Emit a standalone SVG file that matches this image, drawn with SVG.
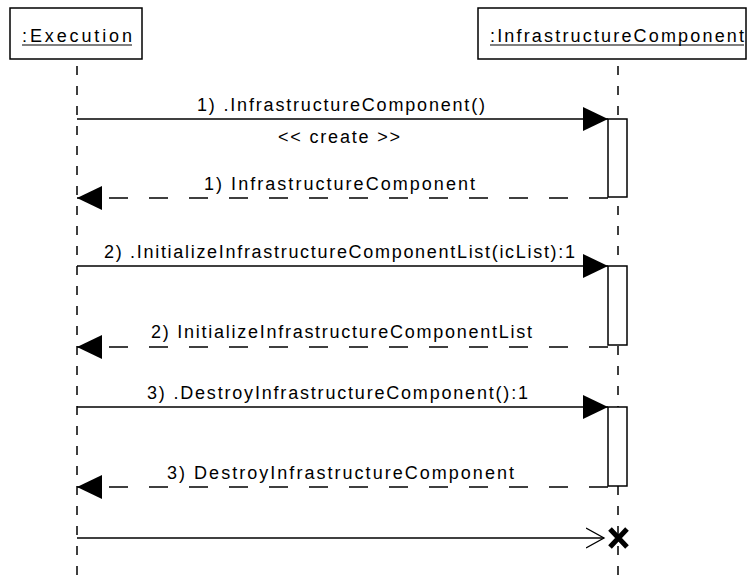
<svg xmlns="http://www.w3.org/2000/svg" width="748" height="575" viewBox="0 0 748 575">
<style>
text{font-family:"Liberation Sans",Arial,sans-serif;font-size:18px;fill:#000}
.box{fill:#fff;stroke:#000;stroke-width:1.5}
.life{stroke:#000;stroke-width:1.5;stroke-dasharray:9 11;fill:none}
.msg{stroke:#000;stroke-width:1.5;fill:none}
.ret{stroke:#000;stroke-width:1.5;fill:none;stroke-dasharray:19 21}
.act{fill:#fff;stroke:#000;stroke-width:1.5}
.ul{stroke:#000;stroke-width:1.2}
</style>
<defs>
<marker id="filled" markerUnits="userSpaceOnUse" markerWidth="26" markerHeight="26" refX="25" refY="12" orient="auto" viewBox="0 0 26 26">
<path d="M0,0 L25,12 L0,24 Z" fill="#000"/>
</marker>
<marker id="open" markerUnits="userSpaceOnUse" markerWidth="20" markerHeight="24" refX="18" refY="11" orient="auto" viewBox="0 0 20 24">
<path d="M0,1 L18,11 L0,21" fill="none" stroke="#000" stroke-width="1.3"/>
</marker>
</defs>
<g id="lifelines">
<line class="life" x1="77" y1="66" x2="77" y2="575"/>
<line class="life" x1="618" y1="66" x2="618" y2="575"/>
</g>
<g id="execution">
<rect class="box" x="10" y="8" width="132" height="51"/>
<text x="22" y="42" textLength="110" lengthAdjust="spacing">:Execution</text>
<line class="ul" x1="22" y1="45" x2="132" y2="45"/>
</g>
<g id="infrastructureComponent">
<rect class="box" x="478" y="8" width="268" height="51"/>
<text x="490" y="42" textLength="254" lengthAdjust="spacing">:InfrastructureComponent</text>
<line class="ul" x1="490" y1="45" x2="744" y2="45"/>
</g>
<g id="activations">
<rect class="act" x="608" y="119" width="19" height="78"/>
<rect class="act" x="608" y="266" width="19" height="79"/>
<rect class="act" x="608" y="407" width="19" height="79"/>
</g>
<g id="connectors">
<line class="msg" x1="77" y1="119" x2="608" y2="119" marker-end="url(#filled)"/>
<line class="ret" x1="608" y1="198" x2="77" y2="198" marker-end="url(#filled)"/>
<line class="msg" x1="77" y1="266" x2="608" y2="266" marker-end="url(#filled)"/>
<line class="ret" x1="608" y1="347" x2="77" y2="347" marker-end="url(#filled)"/>
<line class="msg" x1="77" y1="407" x2="608" y2="407" marker-end="url(#filled)"/>
<line class="ret" x1="608" y1="487" x2="77" y2="487" marker-end="url(#filled)"/>
<line class="msg" x1="77" y1="538" x2="604" y2="538" marker-end="url(#open)"/>
<path d="M610,529 L627,547 M627,529 L610,547" stroke="#000" stroke-width="5" fill="none"/>
</g>
<g id="labels">
<text x="197" y="111" textLength="288" lengthAdjust="spacing">1) .InfrastructureComponent()</text>
<text x="278" y="143" textLength="122" lengthAdjust="spacing">&lt;&lt; create &gt;&gt;</text>
<text x="204" y="190" textLength="271" lengthAdjust="spacing">1) InfrastructureComponent</text>
<text x="104" y="258" textLength="471" lengthAdjust="spacing">2) .InitializeInfrastructureComponentList(icList):1</text>
<text x="151" y="338" textLength="381" lengthAdjust="spacing">2) InitializeInfrastructureComponentList</text>
<text x="147" y="399" textLength="381" lengthAdjust="spacing">3) .DestroyInfrastructureComponent():1</text>
<text x="167" y="479" textLength="347" lengthAdjust="spacing">3) DestroyInfrastructureComponent</text>
</g>
</svg>
